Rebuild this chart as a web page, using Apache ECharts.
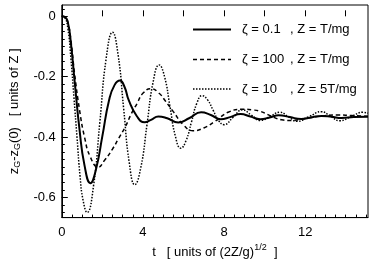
<!DOCTYPE html>
<html><head><meta charset="utf-8">
<script src="https://cdn.jsdelivr.net/npm/echarts@6/dist/echarts.min.js"></script>
<style>html,body{margin:0;padding:0;background:#fff}#c{width:374px;height:264px}</style>
</head><body><div id="c"></div>
<script>
// ζ = 0.1 , Z = T/mg (solid)
const tA = [0,0.15,0.3,0.45,0.63,0.875,1.12,1.41,1.69,2.0,2.33,2.6,2.87,3.1,3.3,3.71,4.08,4.4,4.76,5.2,5.74,6.3,6.87,7.35,7.84,8.3,8.82,9.3,9.79,10.25,10.7,11.25,11.8,12.3,12.8,13.3,13.8,14.4,15.1];
const vA = [0,-0.002,-0.02,-0.09,-0.213,-0.376,-0.494,-0.553,-0.506,-0.397,-0.278,-0.228,-0.213,-0.235,-0.278,-0.332,-0.351,-0.343,-0.332,-0.338,-0.352,-0.337,-0.318,-0.327,-0.341,-0.334,-0.324,-0.332,-0.341,-0.335,-0.328,-0.334,-0.340,-0.335,-0.330,-0.333,-0.337,-0.334,-0.333];
// ζ = 100 , Z = T/mg (dashed)
const tB = [0,0.15,0.3,0.45,0.63,0.875,1.12,1.4,1.8,2.1,2.5,2.8,3.14,3.45,3.71,4.0,4.4,4.8,5.1,5.49,6.0,6.47,7.0,7.58,8.2,8.9,9.38,9.8,10.3,10.84,11.2,11.7,12.14,12.9,13.6,14.3,15.1];
const vB = [0,-0.002,-0.02,-0.08,-0.19,-0.31,-0.40,-0.465,-0.5,-0.478,-0.44,-0.405,-0.365,-0.32,-0.289,-0.255,-0.24,-0.255,-0.28,-0.315,-0.36,-0.379,-0.37,-0.347,-0.318,-0.308,-0.31,-0.315,-0.33,-0.343,-0.345,-0.342,-0.337,-0.33,-0.327,-0.329,-0.331];
// ζ = 10 , Z = 5T/mg (dotted)
const tC = [0,0.15,0.3,0.45,0.6,0.75,0.9,1.05,1.25,1.5625,1.875,2.1875,2.5,2.775,3.05,3.325,3.6,3.9,4.2,4.5,4.8,5.07,5.335,5.6,5.87,6.13,6.395,6.66,6.92,7.19,7.46,7.73,8.0,8.45,8.9,9.35,9.8,10.275,10.75,11.175,11.6,12.2,12.8,13.25,13.7,14.275,14.85,15.1];
const vC = [0,-0.004,-0.04,-0.14,-0.27,-0.40,-0.53,-0.61,-0.65,-0.563,-0.352,-0.140,-0.053,-0.127,-0.3055,-0.484,-0.558,-0.500,-0.3595,-0.219,-0.161,-0.201,-0.299,-0.397,-0.437,-0.4115,-0.35,-0.288,-0.263,-0.277,-0.311,-0.345,-0.359,-0.3345,-0.31,-0.3275,-0.345,-0.3315,-0.318,-0.333,-0.348,-0.332,-0.316,-0.331,-0.346,-0.332,-0.318,-0.321];

const xLabels = [0,4,8,12];
const xMajor = [0,2,4,6,8,10,12,14];
const yLabels = [0,-0.2,-0.4,-0.6];
const yMajor = [0,-0.2,-0.4,-0.6];
const legendZeta = ['ζ = 0.1', 'ζ = 100', 'ζ = 10'];
const legendZ = [', Z = T/mg', ', Z = T/mg', ', Z = 5T/mg'];

const xMinor = []; for (let i = 0; i <= 30; i++) xMinor.push(i*0.5);
const yMinor = []; for (let i = 1; i >= -26; i--) yMinor.push(+(i*0.025).toFixed(3));

const zip = (t, v) => t.map((x, i) => [x, v[i]]);
const FONT = 'Liberation Sans, Arial, sans-serif';
const XMIN = 0, XMAX = 15.1, YMIN = -0.667, YMAX = 0.0375;
const styles = [
  {width: 2, type: 'solid', dash: null},
  {width: 1.5, type: [4, 3], dash: [4, 3]},
  {width: 1.5, type: [1.5, 1.5], dash: [1.5, 1.5]}
];

const legendGraphics = [];
const rowsY = [29.5, 59.5, 89];
for (let i = 0; i < 3; i++) {
  legendGraphics.push({type: 'line', shape: {x1: 193, y1: rowsY[i], x2: 231, y2: rowsY[i]},
    style: {stroke: '#000', lineWidth: styles[i].width, lineDash: styles[i].dash}});
  legendGraphics.push({type: 'text', x: 242, y: rowsY[i],
    style: {text: '{a|' + legendZeta[i] + '}{b|' + legendZ[i] + '}', verticalAlign: 'middle',
      rich: {a: {fontFamily: FONT, fontSize: 13, fill: '#000', width: 48}, b: {fontFamily: FONT, fontSize: 13, fill: '#000'}}}});
}

const chart = echarts.init(document.getElementById('c'), null, {renderer: 'canvas'});
const axisBase = {
  type: 'value', splitLine: {show: false},
  axisLine: {show: true, onZero: false, lineStyle: {color: '#000', width: 1}}
};
chart.setOption({
  animation: false,
  backgroundColor: '#fff',
  grid: {left: 57, right: 6, top: 5, bottom: 43, show: true, borderColor: '#000', borderWidth: 1, backgroundColor: 'transparent'},
  graphic: legendGraphics,
  xAxis: [
    Object.assign({}, axisBase, {
      min: XMIN, max: XMAX,
      axisTick: {show: true, inside: true, length: 3, customValues: xMinor, lineStyle: {color: '#000'}},
      axisLabel: {customValues: xLabels, fontFamily: FONT, fontSize: 13, color: '#000', margin: 8},
      name: '{n|t   [ units of (2Z/g)}{p|1/2}{n|  ]}', nameLocation: 'middle', nameGap: 24,
      nameTextStyle: {rich: {n: {fontFamily: FONT, fontSize: 13, color: '#000'}, p: {fontFamily: FONT, fontSize: 9, color: '#000', padding: [0,0,9,0]}}}
    }),
    Object.assign({}, axisBase, {
      min: XMIN, max: XMAX, position: 'bottom', axisLine: {show: false},
      axisTick: {show: true, inside: true, length: 6, customValues: xMajor, lineStyle: {color: '#000'}},
      axisLabel: {show: false}
    })
  ],
  yAxis: [
    Object.assign({}, axisBase, {
      min: YMIN, max: YMAX,
      axisTick: {show: true, inside: true, length: 3, customValues: yMinor, lineStyle: {color: '#000'}},
      axisLabel: {customValues: yLabels, fontFamily: FONT, fontSize: 13, color: '#000', margin: 6,
        formatter: v => (Math.abs(v) < 1e-9 ? '0' : v.toFixed(1))},
      name: '{n|z}{s|G}{n|-z}{s|G}{n|(0)   [ units of Z ]}', nameLocation: 'middle', nameGap: 39, nameRotate: 90,
      nameTextStyle: {rich: {n: {fontFamily: FONT, fontSize: 13, color: '#000'}, s: {fontFamily: FONT, fontSize: 9, color: '#000', padding: [7,0,0,0]}}}
    }),
    Object.assign({}, axisBase, {
      min: YMIN, max: YMAX, position: 'left', axisLine: {show: false},
      axisTick: {show: true, inside: true, length: 6, customValues: yMajor, lineStyle: {color: '#000'}},
      axisLabel: {show: false}
    })
  ],
  series: [
    {name: 's1', type: 'line', data: zip(tA, vA), showSymbol: false, symbol: 'none', smooth: 0.5,
      lineStyle: {color: '#000', width: styles[0].width, type: styles[0].type}},
    {name: 's2', type: 'line', data: zip(tB, vB), showSymbol: false, symbol: 'none', smooth: 0.5,
      lineStyle: {color: '#000', width: styles[1].width, type: styles[1].type}},
    {name: 's3', type: 'line', data: zip(tC, vC), showSymbol: false, symbol: 'none', smooth: 0.5,
      lineStyle: {color: '#000', width: styles[2].width, type: styles[2].type}}
  ]
});
</script></body></html>
